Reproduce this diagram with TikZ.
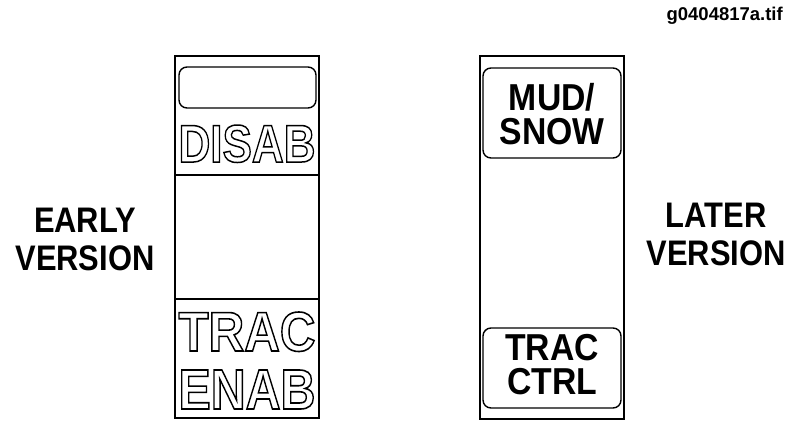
\documentclass[tikz,border=0pt]{standalone}
\usepackage{fontspec}
\setmainfont{Liberation Sans}
\newcommand{\narrowtext}[1]{\scalebox{0.87}[1]{#1}}
\newcommand{\captextbox}[1]{\scalebox{0.9}[1]{#1}}
% letters stroked only (render mode 1)
\newcommand{\hollow}[3]{\resizebox{#1}{#2}{\special{pdf:code 1 Tr 1.5 w}#3\special{pdf:code 0 Tr}}}
\tikzset{
  panel/.style={draw, line width=1.8pt},
  divider/.style={draw, line width=1.4pt},
  capbox/.style={draw, line width=1.4pt, rounded corners=8pt},
  sidetext/.style={font=\bfseries\fontsize{35.5}{40}\selectfont, inner sep=0pt, anchor=base},
  captext/.style={font=\bfseries\fontsize{37.5}{44}\selectfont, inner sep=0pt, anchor=base},
  hollowtext/.style={inner sep=0pt, anchor=base, font=\bfseries\fontsize{53}{60}\selectfont},
}
\begin{document}
\begin{tikzpicture}[x=1pt,y=-1pt]
  \useasboundingbox (0,0) rectangle (800,429);
  % file tag
  \node[font=\bfseries\fontsize{18.5}{20}\selectfont, inner sep=0pt, anchor=base east] (tag) at (783,20) {g0404817a.tif};
  % early switch
  \draw[panel] (175,56) rectangle (319,418);
  \draw[capbox] (179,67) rectangle (316,108);
  \draw[divider] (175,175) -- (319,175);
  \draw[divider] (175,299) -- (319,299);
  \node[hollowtext] (disab) at (247,162) {\hollow{137pt}{37pt}{DISAB}};
  \node[hollowtext] (tracon) at (247,351) {\hollow{137pt}{39pt}{TRAC}};
  \node[hollowtext] (enab) at (247,409) {\hollow{137pt}{39pt}{ENAB}};
  \node[sidetext] (early) at (85,232) {\narrowtext{EARLY}};
  \node[sidetext] (earlyver) at (85,270) {\narrowtext{VERSION}};
  % later switch
  \draw[panel] (480,56) rectangle (624,419);
  \draw[capbox] (483,68) rectangle (621,158);
  \draw[capbox] (483,328) rectangle (621,408);
  \node[captext] (mud) at (552,110.5) {\captextbox{MUD/}};
  \node[captext] (snow) at (552,144.5) {\captextbox{SNOW}};
  \node[captext] (trac) at (552,360) {\captextbox{TRAC}};
  \node[captext] (ctrl) at (552,394) {\captextbox{CTRL}};
  \node[sidetext] (later) at (716,227) {\narrowtext{LATER}};
  \node[sidetext] (laterver) at (716,265) {\narrowtext{VERSION}};
\end{tikzpicture}
\end{document}
